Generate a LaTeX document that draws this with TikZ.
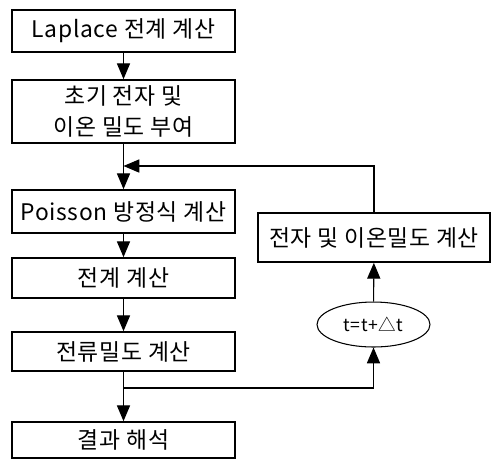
\documentclass[tikz,border=0pt]{standalone}
\usepackage{fontspec}
\setmainfont{Noto Sans CJK KR}[LetterSpace=3]
\usepackage{tikz}
\usetikzlibrary{arrows.meta,shapes.geometric,positioning}

\begin{document}
\begin{tikzpicture}[x = .02cm, y = -.02cm, style={font=\fontsize{13}{16}\selectfont},
  stepbox/.style={draw=black, line width=1pt, minimum width=4.46cm, align=center, inner sep=0pt},
  flow/.style={line width=.6pt, -{Triangle[length=9pt,width=7.5pt]}}]
\useasboundingbox (0,0) rectangle (496,461);
% main column
\node[stepbox, minimum height=.84cm] (laplace) at (123.5,31) {Laplace 전계 계산};
\node[stepbox, minimum height=1.26cm] (initial) at (123.5,111.5) {초기 전자 및\\[2pt]이온 밀도 부여};
\node[stepbox, minimum height=.86cm] (poisson) at (123.5,211.5) {Poisson 방정식 계산};
\node[stepbox, minimum height=.8cm] (field) at (123.5,278) {전계 계산};
\node[stepbox, minimum height=.78cm] (current) at (123.5,351.5) {전류밀도 계산};
\node[stepbox, minimum height=.72cm] (result) at (123.5,440) {결과 해석};
% time loop
\node[stepbox, minimum width=4.64cm, minimum height=.98cm] (density) at (374,237.5) {전자 및 이온밀도 계산};
\node[draw=black, line width=.6pt, ellipse, minimum width=2.26cm, minimum height=.9cm, inner sep=0pt, font=\normalsize] (tstep) at (373.5,324.5) {t=t+△t};
\coordinate (merge) at (123.5,166);
\coordinate (split) at (123.5,388);
% connectors
\draw[flow] (laplace) -- (initial);
\draw[flow] (initial) -- (poisson);
\draw[flow] (poisson) -- (field);
\draw[flow] (field) -- (current);
\draw[flow] (current) -- (result);
\draw[flow] (split) -| (tstep);
\draw[flow] (tstep) -- (density);
\draw[flow] (density) |- (merge);
\end{tikzpicture}
\end{document}
